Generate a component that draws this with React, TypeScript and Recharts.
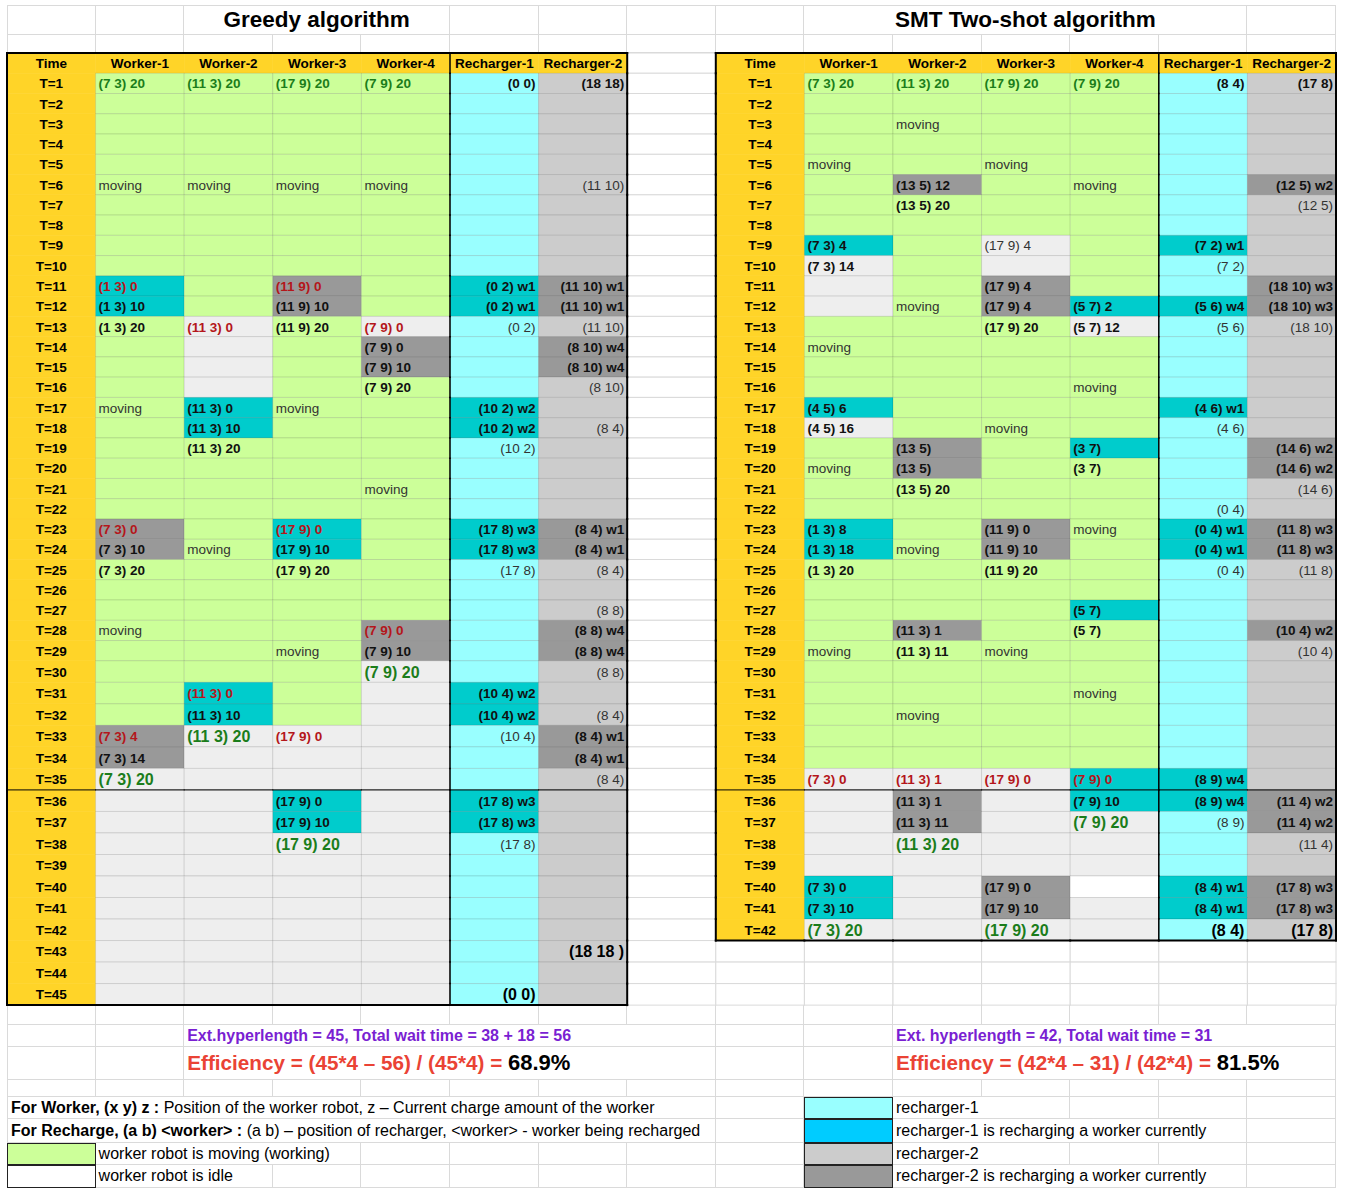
import React from 'react';
import { ScatterChart, Scatter, XAxis, YAxis } from 'recharts';

type Run = [number, string];
type Note = [number, string, string];

const entities = ['Worker-1', 'Worker-2', 'Worker-3', 'Worker-4', 'Recharger-1', 'Recharger-2'];

// cell states: m moving, i idle, c recharger-1 busy, g recharger-2 busy, w white,
// a recharger-1 idle, s recharger-2 idle
// ---- Greedy algorithm, T=1..45 ----
const greedyW1Runs: Run[] = [[10, 'm'], [2, 'c'], [10, 'm'], [2, 'g'], [8, 'm'], [2, 'g'], [11, 'i']];
const greedyW2Runs: Run[] = [[12, 'm'], [4, 'i'], [2, 'c'], [12, 'm'], [2, 'c'], [13, 'i']];
const greedyW3Runs: Run[] = [[10, 'm'], [2, 'g'], [10, 'm'], [2, 'c'], [8, 'm'], [3, 'i'], [2, 'c'], [8, 'i']];
const greedyW4Runs: Run[] = [[12, 'm'], [1, 'i'], [2, 'g'], [12, 'm'], [2, 'g'], [16, 'i']];
const greedyR1Runs: Run[] = [[10, 'a'], [2, 'c'], [4, 'a'], [2, 'c'], [4, 'a'], [2, 'c'], [6, 'a'], [2, 'c'], [3, 'a'], [2, 'c'], [8, 'a']];
const greedyR2Runs: Run[] = [[10, 's'], [2, 'g'], [1, 's'], [2, 'g'], [7, 's'], [2, 'g'], [3, 's'], [2, 'g'], [3, 's'], [2, 'g'], [11, 's']];

const greedyW1Notes: Note[] = [[1, '(7 3) 20', 'start'], [6, 'moving', 'n'], [11, '(1 3) 0', 'low'], [12, '(1 3) 10', 'b'], [13, '(1 3) 20', 'b'], [17, 'moving', 'n'], [23, '(7 3) 0', 'low'], [24, '(7 3) 10', 'b'], [25, '(7 3) 20', 'b'], [28, 'moving', 'n'], [33, '(7 3) 4', 'low'], [34, '(7 3) 14', 'b'], [35, '(7 3) 20', 'end']];
const greedyW2Notes: Note[] = [[1, '(11 3) 20', 'start'], [6, 'moving', 'n'], [13, '(11 3) 0', 'low'], [17, '(11 3) 0', 'b'], [18, '(11 3) 10', 'b'], [19, '(11 3) 20', 'b'], [24, 'moving', 'n'], [31, '(11 3) 0', 'low'], [32, '(11 3) 10', 'b'], [33, '(11 3) 20', 'end']];
const greedyW3Notes: Note[] = [[1, '(17 9) 20', 'start'], [6, 'moving', 'n'], [11, '(11 9) 0', 'low'], [12, '(11 9) 10', 'b'], [13, '(11 9) 20', 'b'], [17, 'moving', 'n'], [23, '(17 9) 0', 'low'], [24, '(17 9) 10', 'b'], [25, '(17 9) 20', 'b'], [29, 'moving', 'n'], [33, '(17 9) 0', 'low'], [36, '(17 9) 0', 'b'], [37, '(17 9) 10', 'b'], [38, '(17 9) 20', 'end']];
const greedyW4Notes: Note[] = [[1, '(7 9) 20', 'start'], [6, 'moving', 'n'], [13, '(7 9) 0', 'low'], [14, '(7 9) 0', 'b'], [15, '(7 9) 10', 'b'], [16, '(7 9) 20', 'b'], [21, 'moving', 'n'], [28, '(7 9) 0', 'low'], [29, '(7 9) 10', 'b'], [30, '(7 9) 20', 'end']];
const greedyR1Notes: Note[] = [[1, '(0 0)', 'b'], [11, '(0 2) w1', 'b'], [12, '(0 2) w1', 'b'], [13, '(0 2)', 'n'], [17, '(10 2) w2', 'b'], [18, '(10 2) w2', 'b'], [19, '(10 2)', 'n'], [23, '(17 8) w3', 'b'], [24, '(17 8) w3', 'b'], [25, '(17 8)', 'n'], [31, '(10 4) w2', 'b'], [32, '(10 4) w2', 'b'], [33, '(10 4)', 'n'], [36, '(17 8) w3', 'b'], [37, '(17 8) w3', 'b'], [38, '(17 8)', 'n'], [45, '(0 0)', 'big']];
const greedyR2Notes: Note[] = [[1, '(18 18)', 'b'], [6, '(11 10)', 'n'], [11, '(11 10) w1', 'b'], [12, '(11 10) w1', 'b'], [13, '(11 10)', 'n'], [14, '(8 10) w4', 'b'], [15, '(8 10) w4', 'b'], [16, '(8 10)', 'n'], [18, '(8 4)', 'n'], [23, '(8 4) w1', 'b'], [24, '(8 4) w1', 'b'], [25, '(8 4)', 'n'], [27, '(8 8)', 'n'], [28, '(8 8) w4', 'b'], [29, '(8 8) w4', 'b'], [30, '(8 8)', 'n'], [32, '(8 4)', 'n'], [33, '(8 4) w1', 'b'], [34, '(8 4) w1', 'b'], [35, '(8 4)', 'n'], [43, '(18 18 )', 'big']];

// ---- SMT Two-shot algorithm, T=1..42 ----
const smtW1Runs: Run[] = [[8, 'm'], [1, 'c'], [3, 'i'], [4, 'm'], [1, 'c'], [1, 'i'], [4, 'm'], [2, 'c'], [10, 'm'], [5, 'i'], [2, 'c'], [1, 'i']];
const smtW2Runs: Run[] = [[5, 'm'], [1, 'g'], [12, 'm'], [2, 'g'], [7, 'm'], [1, 'g'], [6, 'm'], [1, 'i'], [2, 'g'], [5, 'i']];
const smtW3Runs: Run[] = [[8, 'm'], [2, 'i'], [2, 'g'], [10, 'm'], [2, 'g'], [10, 'm'], [5, 'i'], [2, 'g'], [1, 'i']];
const smtW4Runs: Run[] = [[11, 'm'], [1, 'c'], [1, 'i'], [5, 'm'], [1, 'c'], [7, 'm'], [1, 'c'], [7, 'm'], [2, 'c'], [3, 'i'], [1, 'w'], [2, 'i']];
const smtR1Runs: Run[] = [[8, 'a'], [1, 'c'], [2, 'a'], [1, 'c'], [4, 'a'], [1, 'c'], [5, 'a'], [2, 'c'], [10, 'a'], [2, 'c'], [3, 'a'], [2, 'c'], [1, 'a']];
const smtR2Runs: Run[] = [[5, 's'], [1, 'g'], [4, 's'], [2, 'g'], [6, 's'], [2, 'g'], [2, 's'], [2, 'g'], [3, 's'], [1, 'g'], [7, 's'], [2, 'g'], [2, 's'], [2, 'g'], [1, 's']];

const smtW1Notes: Note[] = [[1, '(7 3) 20', 'start'], [5, 'moving', 'n'], [9, '(7 3) 4', 'b'], [10, '(7 3) 14', 'b'], [14, 'moving', 'n'], [17, '(4 5) 6', 'b'], [18, '(4 5) 16', 'b'], [20, 'moving', 'n'], [23, '(1 3) 8', 'b'], [24, '(1 3) 18', 'b'], [25, '(1 3) 20', 'b'], [29, 'moving', 'n'], [35, '(7 3) 0', 'low'], [40, '(7 3) 0', 'b'], [41, '(7 3) 10', 'b'], [42, '(7 3) 20', 'end']];
const smtW2Notes: Note[] = [[1, '(11 3) 20', 'start'], [3, 'moving', 'n'], [6, '(13 5) 12', 'b'], [7, '(13 5) 20', 'b'], [12, 'moving', 'n'], [19, '(13 5)', 'b'], [20, '(13 5)', 'b'], [21, '(13 5) 20', 'b'], [24, 'moving', 'n'], [28, '(11 3) 1', 'b'], [29, '(11 3) 11', 'b'], [32, 'moving', 'n'], [35, '(11 3) 1', 'low'], [36, '(11 3) 1', 'b'], [37, '(11 3) 11', 'b'], [38, '(11 3) 20', 'end']];
const smtW3Notes: Note[] = [[1, '(17 9) 20', 'start'], [5, 'moving', 'n'], [9, '(17 9) 4', 'n'], [11, '(17 9) 4', 'b'], [12, '(17 9) 4', 'b'], [13, '(17 9) 20', 'b'], [18, 'moving', 'n'], [23, '(11 9) 0', 'b'], [24, '(11 9) 10', 'b'], [25, '(11 9) 20', 'b'], [29, 'moving', 'n'], [35, '(17 9) 0', 'low'], [40, '(17 9) 0', 'b'], [41, '(17 9) 10', 'b'], [42, '(17 9) 20', 'end']];
const smtW4Notes: Note[] = [[1, '(7 9) 20', 'start'], [6, 'moving', 'n'], [12, '(5 7) 2', 'b'], [13, '(5 7) 12', 'b'], [16, 'moving', 'n'], [19, '(3 7)', 'b'], [20, '(3 7)', 'b'], [23, 'moving', 'n'], [27, '(5 7)', 'b'], [28, '(5 7)', 'b'], [31, 'moving', 'n'], [35, '(7 9) 0', 'low'], [36, '(7 9) 10', 'b'], [37, '(7 9) 20', 'end']];
const smtR1Notes: Note[] = [[1, '(8 4)', 'b'], [9, '(7 2) w1', 'b'], [10, '(7 2)', 'n'], [12, '(5 6) w4', 'b'], [13, '(5 6)', 'n'], [17, '(4 6) w1', 'b'], [18, '(4 6)', 'n'], [22, '(0 4)', 'n'], [23, '(0 4) w1', 'b'], [24, '(0 4) w1', 'b'], [25, '(0 4)', 'n'], [35, '(8 9) w4', 'b'], [36, '(8 9) w4', 'b'], [37, '(8 9)', 'n'], [40, '(8 4) w1', 'b'], [41, '(8 4) w1', 'b'], [42, '(8 4)', 'big']];
const smtR2Notes: Note[] = [[1, '(17 8)', 'b'], [6, '(12 5) w2', 'b'], [7, '(12 5)', 'n'], [11, '(18 10) w3', 'b'], [12, '(18 10) w3', 'b'], [13, '(18 10)', 'n'], [19, '(14 6) w2', 'b'], [20, '(14 6) w2', 'b'], [21, '(14 6)', 'n'], [23, '(11 8) w3', 'b'], [24, '(11 8) w3', 'b'], [25, '(11 8)', 'n'], [28, '(10 4) w2', 'b'], [29, '(10 4)', 'n'], [36, '(11 4) w2', 'b'], [37, '(11 4) w2', 'b'], [38, '(11 4)', 'n'], [40, '(17 8) w3', 'b'], [41, '(17 8) w3', 'b'], [42, '(17 8)', 'big']];

const tables = [
  { col0: 0, rows: 45, runs: [greedyW1Runs, greedyW2Runs, greedyW3Runs, greedyW4Runs, greedyR1Runs, greedyR2Runs], notes: [greedyW1Notes, greedyW2Notes, greedyW3Notes, greedyW4Notes, greedyR1Notes, greedyR2Notes] },
  { col0: 8, rows: 42, runs: [smtW1Runs, smtW2Runs, smtW3Runs, smtW4Runs, smtR1Runs, smtR2Runs], notes: [smtW1Notes, smtW2Notes, smtW3Notes, smtW4Notes, smtR1Notes, smtR2Notes] },
];

// ---- layout ----
const FONT = '"Liberation Sans", Arial, Helvetica, sans-serif';
const X0 = 7;
const COL_W = 88.6;
const PLOT_H = 952;
const ROW_A = 20.26; // rows up to T=29
const ROW_B = 21.52; // rows from T=30 on are a bit taller
const SPLIT = 30;
const DOMAIN_A = [0, PLOT_H / ROW_A];
const B_START = SPLIT - (SPLIT * ROW_A) / ROW_B;
const DOMAIN_B = [B_START, B_START + PLOT_H / ROW_B];
const LINE = '#dadada';

const FILL: Record<string, string> = {
  m: '#ccff99', i: '#eeeeee', c: '#00cccc', g: '#999999', w: '#ffffff',
  a: '#99ffff', s: '#cccccc', h: '#ffd428', blank: '#ffffff',
};

const TEXT: Record<string, { fill: string; weight: number; size: number }> = {
  head: { fill: '#000', weight: 700, size: 13.5 },
  start: { fill: '#1b7d1b', weight: 700, size: 13.5 },
  end: { fill: '#1b7d1b', weight: 700, size: 16 },
  low: { fill: '#b4161b', weight: 700, size: 13.5 },
  b: { fill: '#111', weight: 700, size: 13.5 },
  n: { fill: '#333', weight: 400, size: 13.5 },
  big: { fill: '#000', weight: 700, size: 16 },
};

type Cell = {
  x: number; y: number; row: number; state: string; text: string; kind: string; align: string;
  eL: number; eR: number; eT: number; eB: number;
};

const expand = (runs: Run[]) => runs.flatMap(([n, s]) => Array(n).fill(s) as string[]);

const blank = (c: number, row: number): Cell => ({
  x: c + 0.5, y: row + 0.5, row, state: 'blank', text: '', kind: '', align: 'start', eL: 0, eR: 0, eT: 0, eB: 0,
});

function buildCells() {
  const out: Cell[] = [];
  for (let row = 0; row < 46; row++) out.push(blank(7, row));
  for (let row = 43; row < 46; row++) for (let c = 8; c < 15; c++) out.push(blank(c, row));
  tables.forEach((tb) => {
    const states = tb.runs.map(expand);
    for (let row = 0; row <= tb.rows; row++) {
      for (let tc = 0; tc < 7; tc++) {
        let state = 'h';
        let text = '';
        let kind = 'head';
        let align = 'middle';
        if (row === 0) text = tc === 0 ? 'Time' : entities[tc - 1];
        else if (tc === 0) text = `T=${row}`;
        else {
          state = states[tc - 1][row - 1];
          const note = tb.notes[tc - 1].find((n) => n[0] === row);
          text = note ? note[1] : '';
          kind = note ? note[2] : 'n';
          align = tc >= 5 ? 'end' : 'start';
        }
        out.push({
          x: tb.col0 + tc + 0.5, y: row + 0.5, row, state, text, kind, align,
          eL: tc === 0 ? 2 : tc === 5 ? 1.5 : 0,
          eR: tc === 6 ? 2 : 0,
          eT: row === 0 ? 2 : row === 36 ? 1 : 0,
          eB: row === tb.rows ? 2 : 0,
        });
      }
    }
  });
  return out;
}

const cells = buildCells();
const upper = cells.filter((d) => d.row < SPLIT);
const lower = cells.filter((d) => d.row >= SPLIT);
const hasEdge = (d: Cell) => d.eL || d.eR || d.eT || d.eB;
const upperEdges = upper.filter(hasEdge);
const lowerEdges = lower.filter(hasEdge);

const cellShape = (rowH: number) => (props: any) => {
  const { cx, cy, payload: p } = props;
  const x0 = cx - COL_W / 2;
  const y0 = cy - rowH / 2;
  const t = TEXT[p.kind] || TEXT.n;
  const tx = p.align === 'start' ? x0 + 3 : p.align === 'end' ? x0 + COL_W - 3 : cx;
  const stroke = p.state === 'h' ? FILL.h : p.state === 'blank' ? LINE : 'rgba(0,0,0,0.1)';
  return (
    <g>
      <rect x={x0} y={y0} width={COL_W} height={rowH} fill={FILL[p.state]} stroke={stroke} strokeWidth={p.state === 'h' ? 0.5 : 1} />
      {p.text ? (
        <text x={tx} y={cy + 0.5} textAnchor={p.align} dominantBaseline="central" fill={t.fill}
          fontWeight={t.weight} fontSize={t.size} fontFamily={FONT}>
          {p.text}
        </text>
      ) : null}
    </g>
  );
};

const edgeShape = (rowH: number) => (props: any) => {
  const { cx, cy, payload: p } = props;
  const x0 = cx - COL_W / 2;
  const x1 = cx + COL_W / 2;
  const y0 = cy - rowH / 2;
  const y1 = cy + rowH / 2;
  return (
    <g stroke="#000" strokeLinecap="square">
      {p.eL ? <line x1={x0} y1={y0} x2={x0} y2={y1} strokeWidth={p.eL} /> : null}
      {p.eR ? <line x1={x1} y1={y0} x2={x1} y2={y1} strokeWidth={p.eR} /> : null}
      {p.eT ? <line x1={x0} y1={y0} x2={x1} y2={y0} strokeWidth={p.eT} /> : null}
      {p.eB ? <line x1={x0} y1={y1} x2={x1} y2={y1} strokeWidth={p.eB} /> : null}
    </g>
  );
};

// ---- spreadsheet rows around the tables ----
type SCell = { c: number; span?: number; box?: string; center?: boolean; body?: React.ReactNode };

const singles = (from: number, to: number): SCell[] =>
  Array.from({ length: to - from + 1 }, (_, i) => ({ c: from + i }));

function SheetRow({ top, height, cells: row, first = false }: { top: number; height: number; cells: SCell[]; first?: boolean }) {
  return (
    <>
      {row.map((cell, i) => (
        <div
          key={i}
          style={{
            position: 'absolute', left: X0 + cell.c * COL_W, top, width: (cell.span ?? 1) * COL_W, height,
            boxSizing: 'border-box', borderRight: `1px solid ${LINE}`, borderBottom: `1px solid ${LINE}`,
            borderTop: first ? `1px solid ${LINE}` : undefined,
            borderLeft: cell.c === 0 ? `1px solid ${LINE}` : undefined,
            ...(cell.box ? { background: cell.box, border: '1px solid #222' } : null),
            display: 'flex', alignItems: 'center', justifyContent: cell.center ? 'center' : 'flex-start',
            paddingLeft: cell.center ? 0 : 3, whiteSpace: 'pre',
          }}
        >
          {cell.body}
        </div>
      ))}
    </>
  );
}

const ext = (s: string) => <div style={{ color: '#7a1fd2', fontWeight: 700, fontSize: 16 }}>{s}</div>;
const eff = (s: string, v: string) => (
  <div>
    <span style={{ color: '#ea4335', fontWeight: 700, fontSize: 20.7 }}>{s}</span>
    <span style={{ color: '#000', fontWeight: 700, fontSize: 22 }}>{v}</span>
  </div>
);
const note = (b: string, s: string) => (
  <div style={{ fontSize: 16 }}>
    <b>{b}</b>
    {s}
  </div>
);
const plain = (s: string) => <div style={{ fontSize: 16 }}>{s}</div>;
const title = (s: string) => <div style={{ fontSize: 22.5, fontWeight: 700 }}>{s}</div>;

export default function App() {
  return (
    <div style={{ position: 'relative', width: 1345, height: 1190, background: '#fff', fontFamily: FONT, color: '#000' }}>
      <style>{'body{margin:0}'}</style>

      <SheetRow top={5} height={30} first cells={[
        { c: 0 }, { c: 1 }, { c: 2, span: 3, center: true, body: title('Greedy algorithm') },
        ...singles(5, 8), { c: 9, span: 5, center: true, body: title('SMT Two-shot algorithm') }, { c: 14 },
      ]} />
      <SheetRow top={35} height={18} cells={singles(0, 14)} />

      <SheetRow top={1005} height={20} cells={singles(0, 14)} />
      <SheetRow top={1025} height={22} cells={[
        { c: 0 }, { c: 1 }, { c: 2, span: 6, body: ext('Ext.hyperlength = 45, Total wait time = 38 + 18 = 56') },
        { c: 8 }, { c: 9 }, { c: 10, span: 5, body: ext('Ext. hyperlength = 42, Total wait time = 31') },
      ]} />
      <SheetRow top={1047} height={33} cells={[
        { c: 0 }, { c: 1 }, { c: 2, span: 6, body: eff('Efficiency = (45*4 – 56) / (45*4) = ', '68.9%') },
        { c: 8 }, { c: 9 }, { c: 10, span: 5, body: eff('Efficiency = (42*4 – 31) / (42*4) = ', '81.5%') },
      ]} />
      <SheetRow top={1080} height={17} cells={singles(0, 14)} />
      <SheetRow top={1097} height={22} cells={[
        { c: 0, span: 8, body: note('For Worker, (x y) z : ', 'Position of the worker robot, z – Current charge amount of the worker') },
        { c: 8 }, { c: 9, box: '#99ffff' }, { c: 10, span: 2, body: plain('recharger-1') }, ...singles(12, 14),
      ]} />
      <SheetRow top={1119} height={24} cells={[
        { c: 0, span: 8, body: note('For Recharge, (a b) <worker> : ', '(a b) – position of recharger, <worker> - worker being recharged') },
        { c: 8 }, { c: 9, box: '#00ccff' }, { c: 10, span: 4, body: plain('recharger-1 is recharging a worker currently') }, { c: 14 },
      ]} />
      <SheetRow top={1143} height={22} cells={[
        { c: 0, box: '#ccff99' }, { c: 1, span: 3, body: plain('worker robot is moving (working)') }, ...singles(4, 8),
        { c: 9, box: '#cccccc' }, { c: 10, span: 2, body: plain('recharger-2') }, ...singles(12, 14),
      ]} />
      <SheetRow top={1165} height={23} cells={[
        { c: 0, box: '#ffffff' }, { c: 1, span: 2, body: plain('worker robot is idle') }, ...singles(3, 8),
        { c: 9, box: '#999999' }, { c: 10, span: 4, body: plain('recharger-2 is recharging a worker currently') }, { c: 14 },
      ]} />

      <div style={{ position: 'absolute', left: 0, top: 48 }}>
        <ScatterChart width={1345} height={962} margin={{ top: 5, right: 9, bottom: 5, left: 7 }}>
          <XAxis type="number" dataKey="x" domain={[0, 15]} hide />
          <YAxis yAxisId="a" type="number" dataKey="y" domain={DOMAIN_A} reversed hide />
          <YAxis yAxisId="b" type="number" dataKey="y" domain={DOMAIN_B} reversed hide />
          <Scatter yAxisId="a" data={upper} shape={cellShape(ROW_A)} isAnimationActive={false} />
          <Scatter yAxisId="b" data={lower} shape={cellShape(ROW_B)} isAnimationActive={false} />
          <Scatter yAxisId="a" data={upperEdges} shape={edgeShape(ROW_A)} isAnimationActive={false} />
          <Scatter yAxisId="b" data={lowerEdges} shape={edgeShape(ROW_B)} isAnimationActive={false} />
        </ScatterChart>
      </div>
    </div>
  );
}
